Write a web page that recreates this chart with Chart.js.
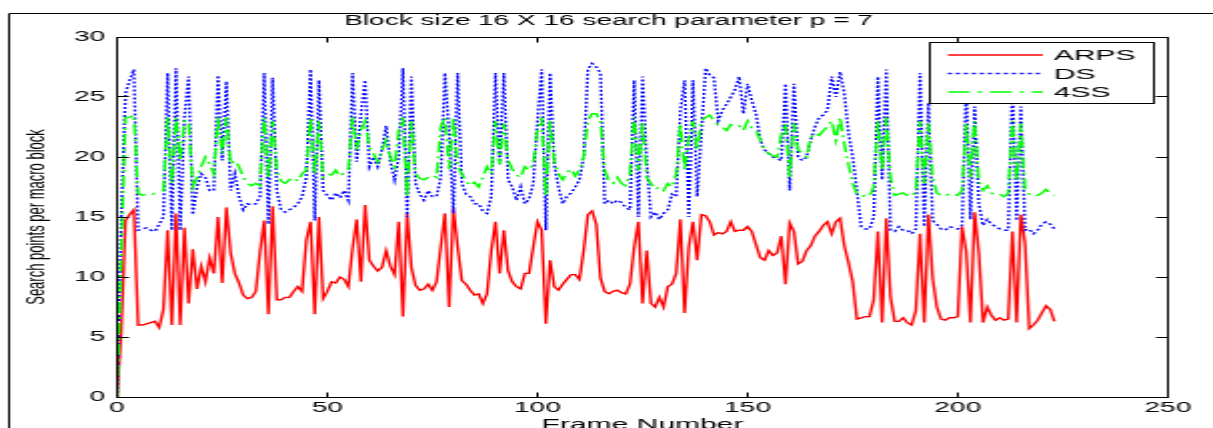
<!DOCTYPE html>
<html>
<head>
<meta charset="utf-8">
<script src="https://cdn.jsdelivr.net/npm/chart.js@4/dist/chart.umd.min.js"></script>
<style>
  html, body { margin: 0; padding: 0; background: #fff; overflow: hidden; }
  #stage { display: block; }
</style>
</head>
<body>
<!-- drawn at half width and stretched, like the original figure -->
<canvas id="stage" width="606" height="428" style="width:1213px;height:428px"></canvas>
<script>
// search points per macro block, one value per frame
const arps = [
  0, 5.5, 14.7, 15.2, 15.6, 6.0, 6.0, 6.1, 6.2, 6.3,
  5.8, 7.3, 13.9, 6.0, 15.3, 6.0, 14.1, 7.8, 12.3, 9.0,
  10.9, 9.6, 11.6, 10.3, 15.0, 9.5, 15.8, 12.0, 10.3, 9.5,
  8.5, 8.2, 8.3, 8.8, 12.1, 14.7, 6.9, 15.9, 8.1, 8.1,
  8.3, 8.3, 8.8, 9.2, 8.8, 13.1, 14.6, 6.9, 15.0, 8.2,
  8.8, 9.6, 9.5, 10.0, 9.8, 9.2, 12.4, 14.8, 9.6, 16.0,
  11.4, 10.9, 10.5, 10.8, 12.2, 10.9, 10.2, 14.6, 6.7, 15.3,
  10.8, 9.3, 8.9, 9.0, 9.4, 8.9, 9.6, 12.5, 15.3, 7.5,
  15.7, 12.5, 9.7, 9.4, 8.9, 8.5, 8.6, 7.8, 8.6, 12.2,
  14.6, 10.3, 13.9, 10.5, 9.6, 9.2, 9.0, 10.3, 10.3, 12.5,
  14.6, 13.9, 6.1, 11.4, 9.2, 8.9, 9.4, 9.8, 10.2, 10.2,
  9.8, 12.2, 15.2, 15.5, 14.4, 9.9, 8.8, 8.6, 8.8, 8.9,
  8.7, 8.6, 9.4, 12.5, 14.6, 7.8, 12.2, 7.8, 7.5, 8.3,
  7.5, 9.2, 9.4, 10.3, 14.8, 7.0, 12.5, 14.6, 11.4, 15.2,
  15.1, 14.6, 13.5, 13.7, 13.6, 13.8, 14.6, 13.8, 13.9, 13.9,
  14.2, 13.8, 12.7, 11.6, 11.4, 12.2, 11.8, 12.0, 13.4, 9.4,
  14.5, 13.8, 11.1, 11.3, 12.2, 12.6, 13.4, 13.8, 14.3, 14.6,
  13.6, 14.6, 14.9, 12.6, 11.2, 9.6, 6.5, 6.6, 6.7, 6.7,
  8.1, 13.8, 6.2, 14.9, 8.3, 6.3, 6.3, 6.6, 6.2, 6.0,
  7.2, 13.6, 6.2, 15.2, 9.9, 7.5, 6.5, 6.4, 6.6, 6.6,
  6.7, 14.2, 12.1, 6.2, 15.4, 12.0, 6.2, 7.5, 6.8, 6.4,
  6.6, 6.4, 6.5, 13.8, 6.2, 15.2, 12.8, 5.7, 6.0, 6.4,
  7.0, 7.6, 7.3, 6.3
];

const ds = [
  0, 15.0, 25.3, 26.4, 27.3, 13.9, 14.0, 14.1, 13.9, 13.8,
  14.4, 15.0, 27.0, 13.9, 27.4, 13.9, 23.3, 26.7, 15.2, 17.5,
  18.6, 18.3, 17.2, 17.2, 26.8, 19.7, 26.3, 17.2, 18.6, 16.7,
  15.6, 16.1, 16.0, 16.1, 16.7, 27.0, 14.4, 26.6, 17.2, 15.6,
  15.4, 15.6, 15.8, 16.1, 16.7, 18.3, 27.3, 14.7, 26.4, 17.2,
  16.8, 16.4, 17.0, 16.6, 17.2, 16.4, 27.0, 19.6, 23.6, 26.4,
  19.2, 20.0, 19.2, 20.6, 22.6, 19.6, 18.1, 20.0, 27.4, 15.0,
  26.7, 17.8, 16.9, 16.4, 17.2, 16.7, 16.7, 18.3, 27.0, 22.0,
  15.3, 27.0, 17.8, 16.9, 16.7, 16.1, 16.1, 15.5, 15.3, 16.7,
  27.0, 19.4, 27.0, 18.1, 17.5, 16.4, 17.5, 16.1, 16.5, 17.8,
  23.0, 27.3, 13.9, 27.0, 19.4, 17.5, 16.1, 16.7, 17.0, 17.5,
  18.1, 20.0, 27.3, 27.8, 27.5, 27.0, 16.1, 16.4, 16.1, 16.4,
  16.2, 15.8, 15.6, 26.4, 15.0, 26.7, 19.5, 15.0, 15.4, 14.8,
  15.3, 15.6, 16.9, 16.7, 23.9, 26.4, 15.0, 26.4, 16.7, 22.0,
  27.4, 26.8, 26.6, 23.0, 23.9, 24.4, 25.0, 25.6, 26.7, 23.6,
  26.1, 24.7, 23.6, 21.4, 20.6, 20.3, 20.0, 19.9, 19.7, 26.1,
  17.2, 26.1, 20.0, 19.7, 20.0, 21.4, 22.5, 23.3, 23.5, 23.9,
  26.7, 25.0, 27.1, 25.3, 22.0, 20.0, 17.2, 14.2, 14.0, 14.0,
  15.0, 26.7, 18.1, 27.3, 13.9, 13.8, 14.2, 13.9, 13.9, 13.6,
  14.0, 27.0, 14.2, 24.5, 14.7, 14.4, 14.0, 13.9, 14.2, 14.1,
  14.0, 14.3, 26.0, 14.8, 24.2, 16.1, 14.3, 14.8, 14.4, 14.2,
  14.0, 13.9, 13.9, 26.0, 14.7, 24.2, 13.9, 14.0, 13.6, 13.9,
  14.4, 14.6, 14.4, 14.0
];

const fourSS = [
  0, 12.0, 23.3, 23.3, 23.5, 17.0, 16.8, 16.9, 16.8, 17.0,
  17.1, 17.2, 23.3, 17.8, 23.3, 19.7, 23.0, 23.0, 17.5, 18.3,
  19.2, 20.0, 19.4, 18.6, 23.3, 20.3, 23.3, 19.4, 19.7, 19.2,
  18.3, 17.8, 17.6, 17.8, 17.6, 23.3, 18.3, 23.0, 18.9, 18.0,
  17.8, 18.1, 18.3, 18.0, 18.6, 18.9, 23.3, 18.6, 23.0, 18.3,
  18.6, 18.5, 18.9, 18.4, 18.7, 18.9, 23.3, 20.6, 22.2, 23.0,
  20.8, 20.3, 19.6, 20.5, 21.4, 20.0, 19.2, 22.2, 23.3, 16.7,
  23.0, 18.6, 18.2, 18.1, 18.3, 18.5, 18.3, 22.5, 23.3, 19.0,
  23.3, 19.2, 18.6, 18.0, 17.6, 17.9, 17.5, 18.3, 19.2, 18.6,
  23.0, 19.4, 22.8, 19.7, 19.0, 18.5, 18.3, 19.2, 18.9, 19.4,
  22.2, 23.3, 16.7, 23.0, 19.7, 18.6, 18.1, 18.7, 19.0, 18.4,
  18.9, 20.0, 23.0, 23.6, 23.6, 23.0, 18.9, 18.0, 17.8, 18.3,
  17.8, 17.6, 18.6, 23.3, 18.9, 22.8, 18.3, 17.8, 17.3, 17.5,
  17.2, 17.8, 17.5, 18.6, 22.8, 18.9, 21.5, 23.0, 20.6, 23.0,
  23.3, 23.5, 23.0, 22.7, 22.5, 22.2, 22.7, 22.5, 22.6, 22.2,
  23.0, 22.4, 22.2, 21.4, 20.6, 20.3, 20.1, 20.0, 21.9, 22.8,
  18.3, 22.8, 20.6, 20.3, 20.0, 21.6, 22.0, 21.8, 22.2, 22.5,
  23.0, 21.4, 23.3, 21.1, 19.4, 17.8, 16.9, 16.7, 16.8, 16.7,
  17.5, 23.0, 18.9, 23.3, 18.3, 16.8, 16.9, 17.0, 16.8, 16.7,
  17.2, 23.0, 17.8, 22.8, 18.3, 17.0, 16.8, 16.7, 17.0, 16.9,
  16.8, 17.2, 22.8, 18.3, 23.0, 18.0, 17.2, 17.6, 17.0, 16.8,
  16.9, 16.7, 17.0, 23.0, 18.0, 22.8, 17.3, 16.9, 16.7, 16.8,
  17.0, 17.3, 17.0, 16.8
];

const seriesNames = ['ARPS', 'DS', '4SS'];
const seriesColors = ['#ff0000', '#0000ff', '#00ff00'];
const seriesDash = [[], [2, 2], [11, 4, 2, 4]];

// frame numbers 0..n-1 for the x axis
const frames = arps.map((_, i) => i);

const FONT = '"Liberation Sans", Arial, sans-serif';

// matlab style box, inward ticks, legend and title
const matlabBox = {
  id: 'matlabBox',
  afterDatasetsDraw(chart) {
    const { ctx, chartArea: a, scales } = chart;
    const l = Math.floor(a.left) + 0.5;
    const r = Math.floor(a.right) + 0.5;
    const t = Math.floor(a.top) + 0.5;
    const b = Math.floor(a.bottom) + 0.5;
    ctx.save();
    ctx.strokeStyle = '#000';
    ctx.lineWidth = 1;
    ctx.setLineDash([]);

    // figure frame
    ctx.beginPath();
    ctx.moveTo(4.5, chart.height);
    ctx.lineTo(4.5, 13.5);
    ctx.lineTo(chart.width, 13.5);
    ctx.stroke();

    ctx.strokeRect(l, t, r - l, b - t);

    ctx.beginPath();
    scales.x.ticks.forEach(tk => {
      const px = Math.floor(scales.x.getPixelForValue(tk.value)) + 0.5;
      ctx.moveTo(px, b); ctx.lineTo(px, b - 5);
      ctx.moveTo(px, t); ctx.lineTo(px, t + 5);
    });
    scales.y.ticks.forEach(tk => {
      const py = Math.floor(scales.y.getPixelForValue(tk.value)) + 0.5;
      ctx.moveTo(l, py); ctx.lineTo(l + 6, py);
      ctx.moveTo(r, py); ctx.lineTo(r - 6, py);
    });
    ctx.stroke();

    // legend box
    const lx = 464, ly = 42, lw = 112, lh = 61;
    ctx.fillStyle = '#fff';
    ctx.fillRect(lx, ly, lw, lh);
    ctx.strokeRect(lx + 0.5, ly + 0.5, lw, lh);
    const rows = [55, 73.5, 92];
    ctx.font = '15px ' + FONT;
    ctx.textAlign = 'left';
    ctx.textBaseline = 'middle';
    seriesNames.forEach((name, i) => {
      ctx.setLineDash(seriesDash[i]);
      ctx.strokeStyle = seriesColors[i];
      ctx.lineWidth = 1.3;
      ctx.beginPath();
      ctx.moveTo(473.5, rows[i]);
      ctx.lineTo(521, rows[i]);
      ctx.stroke();
      ctx.fillStyle = '#000';
      ctx.fillText(name, 526.5, rows[i] + 1);
    });
    ctx.setLineDash([]);

    // title
    ctx.font = '14px ' + FONT;
    ctx.textAlign = 'center';
    ctx.fillText('Block size 16 X 16 search parameter p = 7', 304, 21);
    ctx.restore();
  }
};

new Chart(document.getElementById('stage'), {
  type: 'line',
  data: {
    labels: frames,
    datasets: seriesNames.map((name, i) => ({
      label: name,
      data: [arps, ds, fourSS][i],
      borderColor: seriesColors[i],
      borderDash: seriesDash[i],
      borderWidth: 1.4,
      order: 3 - i
    }))
  },
  options: {
    responsive: false,
    devicePixelRatio: 1,
    animation: false,
    layout: { padding: { left: 0, right: 22.5, top: 37, bottom: 0 } },
    elements: {
      point: { radius: 0 },
      line: { tension: 0, fill: false }
    },
    plugins: {
      legend: { display: false },
      tooltip: { enabled: false }
    },
    scales: {
      x: {
        type: 'linear',
        min: 0,
        max: 250,
        ticks: { stepSize: 50, padding: 3, color: '#000', maxRotation: 0, font: { family: FONT, size: 14 } },
        grid: { display: false, drawTicks: false },
        border: { display: false },
        title: { display: true, text: 'Frame Number', color: '#000', padding: 0, font: { family: FONT, size: 15, lineHeight: 0.4 } },
        afterFit(s) { s.height = 31; }
      },
      y: {
        min: 0,
        max: 30,
        ticks: { stepSize: 5, padding: 6, color: '#000', font: { family: FONT, size: 14 } },
        grid: { display: false, drawTicks: false },
        border: { display: false },
        title: { display: true, text: 'Search points per macro block', color: '#000', padding: { top: 10.5, bottom: 0 }, font: { family: FONT, size: 13 } },
        afterFit(s) { s.width = 58.5; }
      }
    }
  },
  plugins: [matlabBox]
});
</script>
</body>
</html>
